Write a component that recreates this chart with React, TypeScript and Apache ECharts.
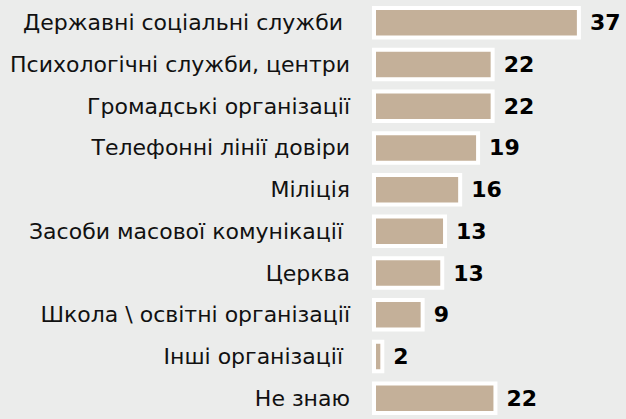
import React, { useEffect, useRef } from "react";
import * as echarts from "echarts";

const categories = [
  "Державні соціальні служби ",
  "Психологічні служби, центри",
  "Громадські організації",
  "Телефонні лінії довіри",
  "Міліція",
  "Засоби масової комунікації ",
  "Церква",
  "Школа \\ освітні організації",
  "Інші організації ",
  "Не знаю",
];
const values = [37.3, 21.9, 21.9, 19.3, 16.1, 13.4, 12.9, 9.4, 2.2, 22.4];

export default function App() {
  const ref = useRef<HTMLDivElement>(null);
  useEffect(() => {
    document.body.style.margin = "0";
    document.body.style.overflow = "hidden";
    const chart = echarts.init(ref.current!, null, { renderer: "svg" });
    chart.setOption({
      animation: false,
      backgroundColor: "#EBECEB",
      grid: { left: 372, top: 2, width: 224, height: 423 },
      xAxis: {
        type: "value",
        min: 0,
        max: 40,
        show: false,
      },
      yAxis: {
        type: "category",
        data: categories,
        inverse: true,
        axisLine: { show: false },
        axisTick: { show: false },
        splitLine: { show: false },
        axisLabel: {
          margin: 22,
          fontFamily: "DejaVu Sans",
          fontSize: 22,
          color: "#111",
          padding: [10, 0, 0, 0],
        },
      },
      series: [
        {
          type: "bar",
          data: values,
          barWidth: 33.5,
          itemStyle: { color: "#C4B099", borderColor: "#FFFFFF", borderWidth: 4 },
          label: {
            show: true,
            position: "right",
            distance: 9,
            fontFamily: "DejaVu Sans",
            fontWeight: "bold",
            fontSize: 22,
            color: "#000",
            padding: [3, 0, 0, 0],
            formatter: (p: any) => String(Math.round(p.value)),
          },
        },
      ],
    });
    return () => chart.dispose();
  }, []);
  return <div ref={ref} style={{ width: 626, height: 419 }} />;
}
